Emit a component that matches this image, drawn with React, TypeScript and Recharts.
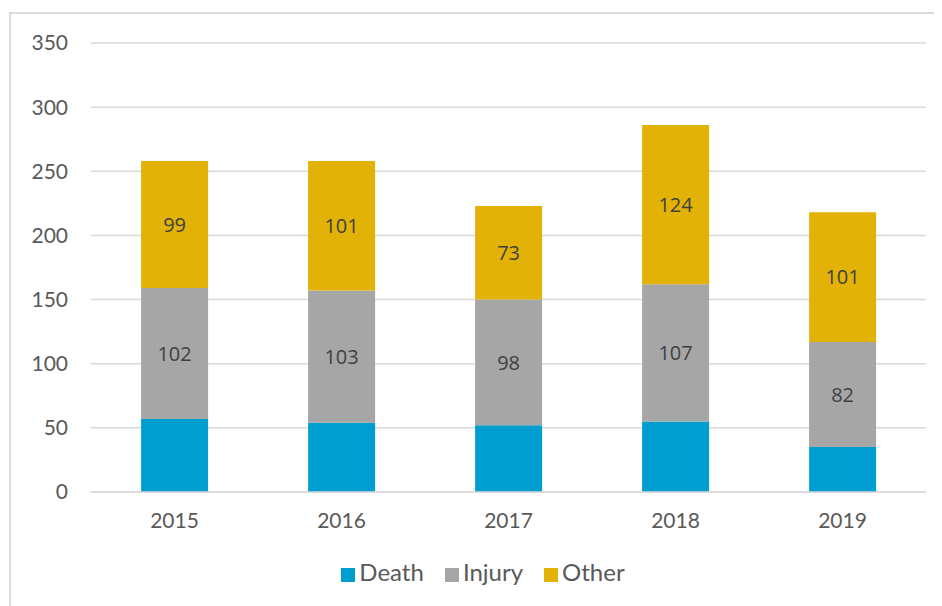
import { BarChart, Bar, XAxis, YAxis, CartesianGrid, Legend, LabelList } from "recharts";

const years = ["2015", "2016", "2017", "2018", "2019"];
const death = [57, 54, 52, 55, 35];
const injury = [102, 103, 98, 107, 82];
const other = [99, 101, 73, 124, 101];
const yTicks = [0, 50, 100, 150, 200, 250, 300, 350];

const COLORS = { death: "#009dd1", injury: "#a6a6a6", other: "#e2b306" };
const FONT = "Lato, 'Open Sans', sans-serif";

export default function App() {
    const data = years.map((year, i) => ({
        year,
        Death: death[i],
        Injury: injury[i],
        Other: other[i],
    }));

    return (
        <div
            style={{
                marginLeft: 1,
                marginTop: 4,
                width: 960,
                height: 620,
                border: "2px solid #d9d9d9",
                boxSizing: "border-box",
                overflow: "hidden",
                fontFamily: FONT,
            }}
        >
            <style>{`
                html, body { overflow: hidden; }
                .recharts-legend-item { margin-right: 21px !important; }
                .recharts-legend-item-text { color: #595959 !important; }
            `}</style>
            <BarChart
                width={931}
                height={590}
                data={data}
                margin={{ top: 29, right: 16, left: 0, bottom: 18 }}
                barCategoryGap="30%"
            >
                <CartesianGrid vertical={false} stroke="#d9d9d9" strokeWidth={1.5} />
                <XAxis
                    dataKey="year"
                    height={65}
                    tickLine={false}
                    axisLine={{ stroke: "#d9d9d9", strokeWidth: 1.5 }}
                    tickMargin={15}
                    tick={{ fill: "#595959", fontSize: 21, fontFamily: FONT }}
                />
                <YAxis
                    width={80}
                    domain={[0, 350]}
                    ticks={yTicks}
                    tickLine={false}
                    axisLine={false}
                    tickMargin={17}
                    tick={{ fill: "#595959", fontSize: 21, fontFamily: FONT }}
                />
                <Legend
                    verticalAlign="bottom"
                    iconType="square"
                    iconSize={14}
                    wrapperStyle={{ fontSize: 24, fontFamily: FONT, paddingLeft: 25 }}
                />
                <Bar dataKey="Death" stackId="a" fill={COLORS.death} isAnimationActive={false} />
                <Bar dataKey="Injury" stackId="a" fill={COLORS.injury} isAnimationActive={false}>
                    <LabelList
                        dataKey="Injury"
                        position="center"
                        fill="#404040"
                        fontSize={20}
                        fontFamily="'Open Sans', sans-serif"
                    />
                </Bar>
                <Bar dataKey="Other" stackId="a" fill={COLORS.other} isAnimationActive={false}>
                    <LabelList
                        dataKey="Other"
                        position="center"
                        fill="#404040"
                        fontSize={20}
                        fontFamily="'Open Sans', sans-serif"
                    />
                </Bar>
            </BarChart>
        </div>
    );
}
